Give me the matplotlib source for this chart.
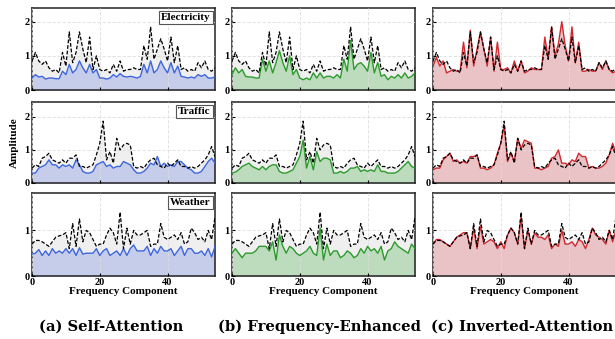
import numpy as np
import matplotlib
matplotlib.use("Agg")
import matplotlib.pyplot as plt

datasets = ["Electricity", "Traffic", "Weather"]
captions = ["(a) Self-Attention", "(b) Frequency-Enhanced", "(c) Inverted-Attention"]

elec_true = [0.85,1.1,0.85,0.75,0.85,0.65,0.55,0.6,0.5,1.1,0.7,1.7,0.8,1.1,1.7,1.2,0.8,1.55,0.6,1.0,
             0.6,0.55,0.6,0.5,0.75,0.55,0.85,0.55,0.6,0.6,0.65,0.6,0.6,1.3,0.9,1.85,0.9,1.2,1.5,1.2,
             0.85,1.55,0.8,1.3,0.6,0.65,0.55,0.6,0.55,0.8,0.65,0.85,0.6,0.55,0.65]
elec_sa = [0.35,0.45,0.38,0.4,0.32,0.35,0.35,0.33,0.33,0.55,0.45,0.75,0.5,0.6,0.85,0.65,0.5,0.75,0.5,0.6,
           0.35,0.35,0.32,0.35,0.45,0.38,0.48,0.4,0.38,0.4,0.38,0.35,0.4,0.75,0.5,0.85,0.5,0.6,0.85,0.65,
           0.5,0.8,0.5,0.7,0.4,0.38,0.35,0.38,0.35,0.45,0.4,0.45,0.35,0.35,0.38]
elec_fe = [0.45,0.65,0.5,0.6,0.4,0.38,0.38,0.35,0.35,0.9,0.55,0.85,0.5,0.8,1.15,0.8,0.55,1.0,0.45,0.6,
           0.35,0.3,0.35,0.3,0.5,0.35,0.5,0.35,0.4,0.4,0.35,0.45,0.35,0.9,0.55,1.45,0.6,0.75,0.8,0.7,
           0.55,1.1,0.5,0.8,0.4,0.45,0.3,0.4,0.35,0.45,0.35,0.5,0.35,0.4,0.5]
elec_ia = [0.7,0.95,0.7,0.85,0.5,0.55,0.6,0.55,0.55,1.4,0.65,1.75,0.7,1.2,1.7,1.2,0.7,1.55,0.55,1.4,
           0.6,0.6,0.65,0.5,0.85,0.55,0.85,0.5,0.55,0.65,0.6,0.6,0.6,1.55,0.9,1.85,1.0,1.35,2.0,1.3,
           0.85,1.85,0.8,1.4,0.55,0.55,0.6,0.55,0.55,0.8,0.6,0.85,0.6,0.5,0.55]

traf_true = [0.45,0.55,0.5,0.75,0.8,0.9,0.7,0.65,0.6,0.7,0.6,0.75,0.75,0.85,0.5,0.5,0.45,0.5,0.55,0.85,
             1.2,1.87,0.7,0.95,0.6,1.35,1.0,1.15,1.2,1.15,0.5,0.45,0.5,0.45,0.6,0.7,0.75,0.55,0.5,0.45,
             0.6,0.5,0.6,0.7,0.5,0.5,0.45,0.5,0.45,0.5,0.6,0.7,0.85,1.1,0.8]
traf_sa = [0.3,0.3,0.45,0.5,0.55,0.7,0.55,0.55,0.45,0.55,0.5,0.55,0.45,0.7,0.55,0.35,0.3,0.3,0.35,0.55,
           0.6,0.65,0.5,0.55,0.45,0.5,0.5,0.65,0.6,0.55,0.4,0.3,0.3,0.35,0.45,0.6,0.55,0.8,0.5,0.6,
           0.5,0.55,0.5,0.65,0.65,0.55,0.45,0.4,0.3,0.3,0.35,0.5,0.65,0.75,0.6]
traf_fe = [0.3,0.33,0.4,0.5,0.55,0.6,0.5,0.45,0.4,0.5,0.4,0.5,0.55,0.55,0.35,0.3,0.3,0.35,0.4,0.6,
           0.8,1.3,0.45,0.8,0.4,0.95,0.65,0.75,0.75,0.7,0.3,0.3,0.35,0.3,0.35,0.45,0.45,0.5,0.35,0.4,
           0.35,0.4,0.35,0.55,0.35,0.35,0.3,0.3,0.3,0.35,0.45,0.55,0.65,0.5,0.45]
traf_ia = [0.4,0.45,0.45,0.7,0.8,0.9,0.65,0.7,0.6,0.65,0.6,0.8,0.8,0.85,0.45,0.45,0.4,0.45,0.55,0.9,
           1.2,1.75,0.65,0.9,0.65,1.35,1.05,1.3,1.25,1.2,0.45,0.45,0.4,0.45,0.5,0.75,0.8,1.0,0.6,0.6,
           0.55,0.7,0.65,0.9,0.8,0.8,0.45,0.5,0.45,0.45,0.5,0.6,0.85,1.2,0.9]

weat_true = [0.7,0.78,0.78,0.75,0.7,0.65,0.75,0.85,0.88,0.9,0.95,0.6,1.15,0.65,1.25,0.75,1.0,0.95,0.8,0.65,
             0.7,0.7,0.9,1.05,0.95,0.7,1.4,0.6,1.05,0.7,1.0,0.9,0.9,0.95,1.0,0.65,0.7,0.7,1.15,0.85,
             0.8,0.85,0.9,0.8,0.95,0.7,0.75,1.05,0.95,0.8,0.85,0.75,1.0,0.8,1.3]
weat_sa = [0.48,0.5,0.58,0.45,0.55,0.45,0.6,0.5,0.55,0.5,0.6,0.5,0.6,0.45,0.62,0.48,0.5,0.5,0.5,0.6,
           0.45,0.55,0.6,0.45,0.5,0.55,0.45,0.6,0.45,0.6,0.68,0.55,0.55,0.55,0.65,0.45,0.6,0.5,0.65,0.55,
           0.55,0.6,0.45,0.55,0.65,0.45,0.6,0.6,0.5,0.5,0.55,0.45,0.6,0.42,0.65]
weat_fe = [0.5,0.6,0.5,0.4,0.5,0.5,0.5,0.55,0.65,0.65,0.65,0.55,0.75,0.35,0.9,0.65,0.5,0.65,0.6,0.5,
           0.45,0.5,0.55,0.65,0.5,0.45,1.05,0.35,0.7,0.45,0.55,0.55,0.4,0.45,0.55,0.5,0.4,0.45,0.6,0.5,
           0.65,0.55,0.6,0.5,0.65,0.35,0.55,0.6,0.75,0.65,0.6,0.55,0.5,0.7,0.6]
weat_ia = [0.7,0.8,0.8,0.75,0.7,0.65,0.75,0.85,0.9,0.95,0.95,0.6,1.05,0.6,1.1,0.7,0.75,0.8,0.75,0.6,
           0.75,0.6,0.9,1.05,0.95,0.7,1.3,0.6,1.0,0.7,0.95,0.85,0.85,0.8,0.9,0.6,0.7,0.65,1.0,0.7,
           0.7,0.75,0.65,0.8,0.75,0.6,0.8,1.05,0.9,0.85,0.8,0.7,1.0,0.75,1.0]

truths = [elec_true, traf_true, weat_true]
preds = [[elec_sa, elec_fe, elec_ia],
         [traf_sa, traf_fe, traf_ia],
         [weat_sa, weat_fe, weat_ia]]
ylims = [2.4, 2.45, 1.82]
line_colors = ["#3d65dc", "#2b9a2b", "#d2282e"]
fill_colors = ["#c5cdeb", "#bddbbd", "#e9c3c5"]

W, H = 615, 339
fig = plt.figure(figsize=(W / 100, H / 100), dpi=100)
col_left = [32, 232, 433]
col_w = 183
rows = [(8, 90), (102, 183), (193, 276)]

serif = ["Liberation Serif", "DejaVu Serif"]

for r in range(3):
    t = np.array(truths[r])
    x = np.arange(len(t))
    for c in range(3):
        top, bot = rows[r]
        ax = fig.add_axes([col_left[c] / W, 1 - bot / H, col_w / W, (bot - top) / H])
        p = np.array(preds[r][c])
        ax.fill_between(x, 0, t, color="#efefef", lw=0, zorder=1)
        ax.fill_between(x, 0, p, color=fill_colors[c], lw=0, zorder=2)
        ax.plot(x, t, color="black", ls=(0, (3, 1.5)), lw=0.9, zorder=4)
        ax.plot(x, p, color=line_colors[c], lw=1.0, zorder=3)
        ax.set_xlim(0, 54)
        ax.set_ylim(0, ylims[r])
        ax.set_xticks([0, 20, 40])
        ax.set_yticks([0, 1] if r == 2 else [0, 1, 2])
        ax.grid(True, ls=(0, (4, 2)), color="#dddddd", lw=0.6)
        ax.set_axisbelow(False)
        ax.tick_params(direction="in", length=2.5, width=0.8, pad=1.5, labelsize=7.5)
        for lab in ax.get_xticklabels() + ax.get_yticklabels():
            lab.set_fontfamily(serif)
            lab.set_fontweight("bold")
        for s in ax.spines.values():
            s.set_linewidth(1.1)
            s.set_color("#222222")
        if r < 2:
            ax.set_xticklabels([])
        else:
            ax.set_xlabel("Frequency Component", fontsize=8, fontweight="bold",
                          family=serif, labelpad=0)
        if c == 0:
            ax.text(0.975, 0.94, datasets[r], transform=ax.transAxes, ha="right", va="top",
                    fontsize=8, fontweight="bold", family=serif, zorder=6,
                    bbox=dict(boxstyle="square,pad=0.2", fc="white", ec="#555555", lw=0.8))
            if r == 1:
                ax.set_ylabel("Amplitude", fontsize=8, fontweight="bold", family=serif, labelpad=4)

cap_x = [111, 319, 522]
for cx, cap in zip(cap_x, captions):
    fig.text(cx / W, 1 - 327 / H, cap, ha="center", va="center", fontsize=10.6,
             fontweight="bold", family=["DejaVu Serif"])

fig.savefig("out.png", dpi=100)
